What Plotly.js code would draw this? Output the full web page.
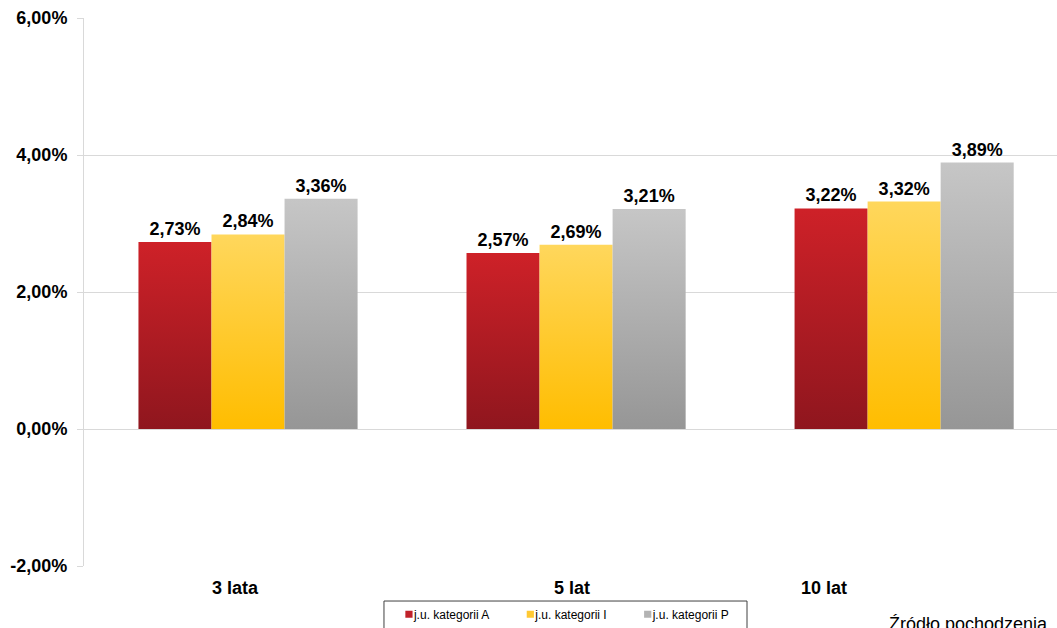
<!DOCTYPE html>
<html>
<head>
<meta charset="utf-8">
<script src="https://cdn.plot.ly/plotly-3.0.1.min.js"></script>
<style>
html,body{margin:0;padding:0;background:#fff;}
#chart{width:1057px;height:628px;}
</style>
</head>
<body>
<div id="chart"></div>
<script>
var categories = ['3 lata', '5 lat', '10 lat'];
var seriesNames = ['j.u. kategorii A', 'j.u. kategorii I', 'j.u. kategorii P'];
var valuesA = [2.73, 2.57, 3.22];
var valuesI = [2.84, 2.69, 3.32];
var valuesP = [3.36, 3.21, 3.89];
var yTickVals = [-2, 0, 2, 4, 6];
var yTickText = ['-2,00%', '0,00%', '2,00%', '4,00%', '6,00%'];
var sourceText = 'Źródło pochodzenia';

var solidColors = ['#C0222A', '#FFC933', '#B3B3B3'];
var gradStops = [
  ['#CE2128', '#8F161E'],
  ['#FFD75C', '#FFBD00'],
  ['#C6C6C6', '#969696']
];
var allValues = [valuesA, valuesI, valuesP];

var font = 'Liberation Sans, Arial, sans-serif';

var traces = allValues.map(function (vals, i) {
  return {
    type: 'bar',
    name: seriesNames[i],
    x: categories,
    y: vals,
    marker: {color: solidColors[i], line: {width: 0}},
    text: vals.map(function (v) { return v.toFixed(2).replace('.', ',') + '%'; }),
    textposition: 'outside',
    texttemplate: '%{text}',
    textfont: {family: font, size: 18, color: '#000', weight: 'bold'},
    cliponaxis: false,
    hoverinfo: 'none'
  };
});

// category labels (the reference draws them shifted left of the bar groups)
var tickLabelPos = [-0.038, 0.989, 1.755];
var annotations = categories.map(function (c, i) {
  return {
    xref: 'x', yref: 'paper', x: tickLabelPos[i], y: -0.018, yanchor: 'top',
    text: '<b>' + c + '</b>', showarrow: false,
    font: {family: font, size: 18, color: '#000'}
  };
});
annotations.push({
  xref: 'paper', yref: 'paper', x: 0.825, xanchor: 'left', y: -0.084, yanchor: 'top',
  text: sourceText, showarrow: false,
  font: {family: font, size: 18, color: '#000'}
});

var layout = {
  width: 1057, height: 628,
  margin: {l: 84, r: 0, t: 18, b: 62},
  paper_bgcolor: '#fff', plot_bgcolor: '#fff',
  barmode: 'group', bargap: 0.332, bargroupgap: 0,
  showlegend: true,
  legend: {
    orientation: 'h', x: 0.298, xanchor: 'left',
    yref: 'container', y: 0.045, yanchor: 'top',
    borderwidth: 0, bgcolor: 'rgba(0,0,0,0)',
    font: {family: font, size: 12, color: '#000'},
    traceorder: 'normal'
  },
  shapes: [{
    type: 'rect', xref: 'paper', yref: 'paper',
    x0: 0.3083, x1: 0.6814, y0: -0.0639, y1: -0.2,
    line: {color: '#404040', width: 1}, fillcolor: 'rgba(0,0,0,0)'
  }],
  xaxis: {
    type: 'category', range: [-0.5, 2.466], showticklabels: false,
    showgrid: false, zeroline: false, showline: false, ticks: ''
  },
  yaxis: {
    range: [-2, 6], tickmode: 'array', tickvals: yTickVals, ticktext: yTickText,
    showgrid: true, gridcolor: '#D9D9D9', gridwidth: 1,
    zeroline: true, zerolinecolor: '#D9D9D9', zerolinewidth: 1,
    showline: true, linecolor: '#D9D9D9', linewidth: 1,
    ticks: 'outside', ticklen: 6, tickcolor: '#D9D9D9',
    tickfont: {family: font, size: 18, color: '#000', weight: 'bold'},
    ticklabelstandoff: 6
  },
  annotations: annotations,
  font: {family: font}
};

Plotly.newPlot('chart', traces, layout, {staticPlot: true, displayModeBar: false}).then(function (gd) {
  var svg = gd.querySelector('svg.main-svg');
  var ns = 'http://www.w3.org/2000/svg';
  var defs = svg.querySelector('defs') || svg.insertBefore(document.createElementNS(ns, 'defs'), svg.firstChild);
  gradStops.forEach(function (stops, i) {
    var lg = document.createElementNS(ns, 'linearGradient');
    lg.setAttribute('id', 'barGrad' + i);
    lg.setAttribute('x1', '0'); lg.setAttribute('y1', '0');
    lg.setAttribute('x2', '0'); lg.setAttribute('y2', '1');
    [[0, stops[0]], [1, stops[1]]].forEach(function (s) {
      var st = document.createElementNS(ns, 'stop');
      st.setAttribute('offset', s[0]);
      st.setAttribute('stop-color', s[1]);
      lg.appendChild(st);
    });
    defs.appendChild(lg);
  });
  var traceGroups = gd.querySelectorAll('.barlayer g.trace.bars');
  traceGroups.forEach(function (g, i) {
    g.querySelectorAll('g.point path').forEach(function (p) {
      p.style.fill = 'url(#barGrad' + i + ')';
    });
  });
  // small legend squares placed right next to the text
  gd.querySelectorAll('.legend .legendpoints path').forEach(function (p) {
    p.setAttribute('transform', 'translate(35,0) scale(0.6)');
  });
});
</script>
</body>
</html>
